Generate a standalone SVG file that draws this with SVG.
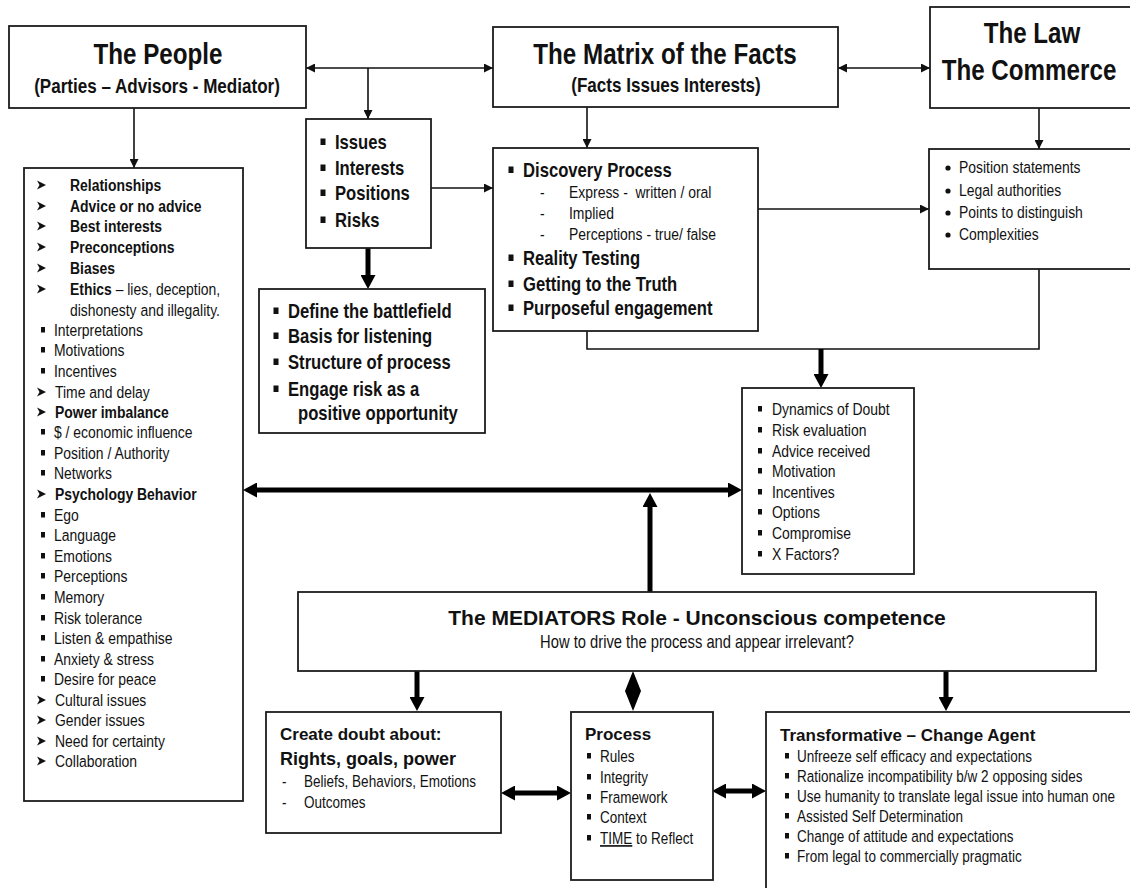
<svg xmlns="http://www.w3.org/2000/svg" width="1130" height="888" viewBox="0 0 1130 888">
<style>
.box{fill:#fff;stroke:#1c1c1c;stroke-width:1.8}
.n{font-family:'Liberation Sans',Arial,sans-serif;fill:#111}
.a{font-family:'Liberation Sans',Arial,sans-serif;fill:#111}
.b{font-weight:bold}
.r{font-weight:normal}
.h{font-size:29.5px;font-weight:bold;text-anchor:middle}
.s{font-size:20.8px;font-weight:bold;text-anchor:middle}
.i{font-size:20.3px;font-weight:bold}
.t{font-size:17px}
.u{font-size:16.5px}
.thin{stroke:#111;stroke-width:1.6;fill:none}
.thick{stroke:#000;stroke-width:5;fill:none}
.blt{fill:#111}
</style>
<defs>
<marker id="m" viewBox="0 0 10 10" refX="10" refY="5" markerWidth="10" markerHeight="9" markerUnits="userSpaceOnUse" orient="auto-start-reverse"><path d="M0,0L10,5L0,10z" fill="#111"/></marker>
<marker id="M" viewBox="0 0 14 15" refX="1" refY="7.5" markerWidth="14" markerHeight="15" markerUnits="userSpaceOnUse" orient="auto-start-reverse"><path d="M0,0L14,7.5L0,15z" fill="#000"/></marker>
<rect id="sq" x="-2" y="-3" width="4" height="5.5" class="blt"/>
<rect id="sqb" x="-2.5" y="-3.5" width="5" height="6.5" class="blt"/>
<path id="arb" d="M-4,-4.5L5,0L-4,4.5L-1.5,0z" class="blt"/>
<circle id="dot" r="2.6" class="blt"/>
</defs>

<g id="connectors">
<line class="thin" x1="306" y1="68" x2="493" y2="68" marker-start="url(#m)" marker-end="url(#m)"/>
<line class="thin" x1="368" y1="68" x2="368" y2="119" marker-end="url(#m)"/>
<line class="thin" x1="838" y1="68" x2="930" y2="68" marker-start="url(#m)" marker-end="url(#m)"/>
<line class="thin" x1="134" y1="108" x2="134" y2="168" marker-end="url(#m)"/>
<line class="thin" x1="587" y1="107" x2="587" y2="148" marker-end="url(#m)"/>
<line class="thin" x1="1039" y1="108" x2="1039" y2="149" marker-end="url(#m)"/>
<line class="thin" x1="431" y1="188" x2="493" y2="188" marker-end="url(#m)"/>
<line class="thin" x1="758" y1="209" x2="929" y2="209" marker-end="url(#m)"/>
<polyline class="thin" points="587,331 587,349 1039,349 1039,269"/>
<line class="thick" x1="368" y1="248" x2="368" y2="276" marker-end="url(#M)"/>
<line class="thick" x1="821" y1="349" x2="821" y2="375" marker-end="url(#M)"/>
<line class="thick" x1="256" y1="490" x2="729" y2="490" marker-start="url(#M)" marker-end="url(#M)"/>
<line class="thick" x1="650" y1="592" x2="650" y2="506" marker-end="url(#M)"/>
<line class="thick" x1="417" y1="671" x2="417" y2="698" marker-end="url(#M)"/>
<line class="thick" x1="946" y1="671" x2="946" y2="698" marker-end="url(#M)"/>
<line class="thick" x1="514" y1="793" x2="558" y2="793" marker-start="url(#M)" marker-end="url(#M)"/>
<line class="thick" x1="725" y1="791" x2="753" y2="791" marker-start="url(#M)" marker-end="url(#M)"/>
<polygon points="633,671 641,691 633,711 625,691" fill="#000"/>
</g>

<g id="people">
<rect class="box" x="9" y="26" width="297" height="82"/>
<text class="n h" transform="matrix(.82 0 0 1 158 64)">The People</text>
<text class="n s" transform="matrix(.82 0 0 1 157 93)">(Parties – Advisors - Mediator)</text>
</g>

<g id="matrix">
<rect class="box" x="493" y="27" width="345" height="80"/>
<text class="n h" transform="matrix(.82 0 0 1 665 64)">The Matrix of the Facts</text>
<text class="n s" transform="matrix(.82 0 0 1 666 92)">(Facts Issues Interests)</text>
</g>

<g id="law">
<rect class="box" x="930" y="7" width="206" height="101"/>
<text class="n h" transform="matrix(.82 0 0 1 1032 43)">The Law</text>
<text class="n h" transform="matrix(.82 0 0 1 1029 80)">The Commerce</text>
</g>

<g id="issues">
<rect class="box" x="306" y="119" width="125" height="129"/>
<use href="#sqb" x="323" y="142"/><use href="#sqb" x="323" y="168"/><use href="#sqb" x="323" y="193"/><use href="#sqb" x="323" y="220"/>
<text class="n i" transform="matrix(.82 0 0 1 335 149)">Issues</text>
<text class="n i" transform="matrix(.82 0 0 1 335 175)">Interests</text>
<text class="n i" transform="matrix(.82 0 0 1 335 200)">Positions</text>
<text class="n i" transform="matrix(.82 0 0 1 335 227)">Risks</text>
</g>

<g id="define">
<rect class="box" x="259" y="289" width="226" height="144"/>
<use href="#sqb" x="276" y="311"/><use href="#sqb" x="276" y="336"/><use href="#sqb" x="276" y="362"/><use href="#sqb" x="276" y="389"/>
<text class="n i" transform="matrix(.82 0 0 1 288 318)">Define the battlefield</text>
<text class="n i" transform="matrix(.82 0 0 1 288 343)">Basis for listening</text>
<text class="n i" transform="matrix(.82 0 0 1 288 369)">Structure of process</text>
<text class="n i" transform="matrix(.82 0 0 1 288 396)">Engage risk as a</text>
<text class="n i" transform="matrix(.82 0 0 1 298 420)">positive opportunity</text>
</g>

<g id="discovery">
<rect class="box" x="493" y="148" width="265" height="183"/>
<use href="#sqb" x="511" y="170"/><use href="#sqb" x="511" y="258"/><use href="#sqb" x="511" y="284"/><use href="#sqb" x="511" y="308"/>
<text class="n i" transform="matrix(.82 0 0 1 523 177)">Discovery Process</text>
<text class="n t" transform="matrix(.82 0 0 1 540 198)">-</text>
<text class="n t" transform="matrix(.82 0 0 1 569 198)" xml:space="preserve">Express -  written / oral</text>
<text class="n t" transform="matrix(.82 0 0 1 540 219)">-</text>
<text class="n t" transform="matrix(.82 0 0 1 569 219)">Implied</text>
<text class="n t" transform="matrix(.82 0 0 1 540 240)">-</text>
<text class="n t" transform="matrix(.82 0 0 1 569 240)">Perceptions - true/ false</text>
<text class="n i" transform="matrix(.82 0 0 1 523 265)">Reality Testing</text>
<text class="n i" transform="matrix(.82 0 0 1 523 291)">Getting to the Truth</text>
<text class="n i" transform="matrix(.82 0 0 1 523 315)">Purposeful engagement</text>
</g>

<g id="position">
<rect class="box" x="929" y="149" width="207" height="120"/>
<use href="#dot" x="948" y="168"/><use href="#dot" x="948" y="191"/><use href="#dot" x="948" y="213"/><use href="#dot" x="948" y="235"/>
<text class="n t" transform="matrix(.82 0 0 1 959 173)">Position statements</text>
<text class="n t" transform="matrix(.82 0 0 1 959 196)">Legal authorities</text>
<text class="n t" transform="matrix(.82 0 0 1 959 218)">Points to distinguish</text>
<text class="n t" transform="matrix(.82 0 0 1 959 240)">Complexities</text>
</g>

<g id="dynamics">
<rect class="box" x="742" y="388" width="172" height="186"/>
<use href="#sq" x="760" y="409"/><use href="#sq" x="760" y="430"/><use href="#sq" x="760" y="451"/><use href="#sq" x="760" y="471"/><use href="#sq" x="760" y="492"/><use href="#sq" x="760" y="512"/><use href="#sq" x="760" y="533"/><use href="#sq" x="760" y="554"/>
<text class="n t" transform="matrix(.82 0 0 1 772 415)">Dynamics of Doubt</text>
<text class="n t" transform="matrix(.82 0 0 1 772 436)">Risk evaluation</text>
<text class="n t" transform="matrix(.82 0 0 1 772 457)">Advice received</text>
<text class="n t" transform="matrix(.82 0 0 1 772 477)">Motivation</text>
<text class="n t" transform="matrix(.82 0 0 1 772 498)">Incentives</text>
<text class="n t" transform="matrix(.82 0 0 1 772 518)">Options</text>
<text class="n t" transform="matrix(.82 0 0 1 772 539)">Compromise</text>
<text class="n t" transform="matrix(.82 0 0 1 772 560)">X Factors?</text>
</g>

<g id="people-factors">
<rect class="box" x="24" y="168" width="219" height="633"/>
<use href="#arb" x="41" y="185"/><use href="#arb" x="41" y="206"/><use href="#arb" x="41" y="226"/><use href="#arb" x="41" y="247"/><use href="#arb" x="41" y="268"/><use href="#arb" x="41" y="289"/>
<use href="#sq" x="43" y="330"/><use href="#sq" x="43" y="350"/><use href="#sq" x="43" y="371"/>
<use href="#arb" x="41" y="392"/><use href="#arb" x="41" y="412"/>
<use href="#sq" x="43" y="432"/><use href="#sq" x="43" y="453"/><use href="#sq" x="43" y="473"/>
<use href="#arb" x="41" y="494"/>
<use href="#sq" x="43" y="515"/><use href="#sq" x="43" y="535"/><use href="#sq" x="43" y="556"/><use href="#sq" x="43" y="576"/><use href="#sq" x="43" y="597"/><use href="#sq" x="43" y="618"/><use href="#sq" x="43" y="638"/><use href="#sq" x="43" y="659"/><use href="#sq" x="43" y="679"/>
<use href="#arb" x="41" y="700"/><use href="#arb" x="41" y="720"/><use href="#arb" x="41" y="741"/><use href="#arb" x="41" y="761"/>
<text class="n t b" transform="matrix(.82 0 0 1 70 191)">Relationships</text>
<text class="n t b" transform="matrix(.82 0 0 1 70 212)">Advice or no advice</text>
<text class="n t b" transform="matrix(.82 0 0 1 70 232)">Best interests</text>
<text class="n t b" transform="matrix(.82 0 0 1 70 253)">Preconceptions</text>
<text class="n t b" transform="matrix(.82 0 0 1 70 274)">Biases</text>
<text class="n t b" transform="matrix(.82 0 0 1 70 295)">Ethics<tspan class="r"> – lies, deception,</tspan></text>
<text class="n t" transform="matrix(.82 0 0 1 70 316)">dishonesty and illegality.</text>
<text class="n t" transform="matrix(.82 0 0 1 54 336)">Interpretations</text>
<text class="n t" transform="matrix(.82 0 0 1 54 356)">Motivations</text>
<text class="n t" transform="matrix(.82 0 0 1 54 377)">Incentives</text>
<text class="n t" transform="matrix(.82 0 0 1 55 398)">Time and delay</text>
<text class="n t b" transform="matrix(.82 0 0 1 55 418)">Power imbalance</text>
<text class="n t" transform="matrix(.82 0 0 1 54 438)">$ / economic influence</text>
<text class="n t" transform="matrix(.82 0 0 1 54 459)">Position / Authority</text>
<text class="n t" transform="matrix(.82 0 0 1 54 479)">Networks</text>
<text class="n t b" transform="matrix(.82 0 0 1 55 500)">Psychology Behavior</text>
<text class="n t" transform="matrix(.82 0 0 1 54 521)">Ego</text>
<text class="n t" transform="matrix(.82 0 0 1 54 541)">Language</text>
<text class="n t" transform="matrix(.82 0 0 1 54 562)">Emotions</text>
<text class="n t" transform="matrix(.82 0 0 1 54 582)">Perceptions</text>
<text class="n t" transform="matrix(.82 0 0 1 54 603)">Memory</text>
<text class="n t" transform="matrix(.82 0 0 1 54 624)">Risk tolerance</text>
<text class="n t" transform="matrix(.82 0 0 1 54 644)">Listen &amp; empathise</text>
<text class="n t" transform="matrix(.82 0 0 1 54 665)">Anxiety &amp; stress</text>
<text class="n t" transform="matrix(.82 0 0 1 54 685)">Desire for peace</text>
<text class="n t" transform="matrix(.82 0 0 1 55 706)">Cultural issues</text>
<text class="n t" transform="matrix(.82 0 0 1 55 726)">Gender issues</text>
<text class="n t" transform="matrix(.82 0 0 1 55 747)">Need for certainty</text>
<text class="n t" transform="matrix(.82 0 0 1 55 767)">Collaboration</text>
</g>

<g id="mediator">
<rect class="box" x="298" y="592" width="798" height="79"/>
<text class="a b" x="697" y="625" font-size="21" text-anchor="middle">The MEDIATORS Role - Unconscious competence</text>
<text class="n" transform="matrix(.82 0 0 1 697 648)" font-size="18" text-anchor="middle">How to drive the process and appear irrelevant?</text>
</g>

<g id="create-doubt">
<rect class="box" x="266" y="712" width="235" height="121"/>
<text class="a b" x="280" y="740" font-size="17">Create doubt about:</text>
<text class="a b" x="280" y="765" font-size="18">Rights, goals, power</text>
<text class="n u" transform="matrix(.82 0 0 1 282 787)">-</text>
<text class="n u" transform="matrix(.82 0 0 1 304 787)">Beliefs, Behaviors, Emotions</text>
<text class="n u" transform="matrix(.82 0 0 1 282 808)">-</text>
<text class="n u" transform="matrix(.82 0 0 1 304 808)">Outcomes</text>
</g>

<g id="process">
<rect class="box" x="571" y="712" width="142" height="168"/>
<text class="a b" x="585" y="740" font-size="17">Process</text>
<use href="#sq" x="589" y="756"/><use href="#sq" x="589" y="777"/><use href="#sq" x="589" y="797"/><use href="#sq" x="589" y="817"/><use href="#sq" x="589" y="838"/>
<text class="n u" transform="matrix(.82 0 0 1 600 762)">Rules</text>
<text class="n u" transform="matrix(.82 0 0 1 600 783)">Integrity</text>
<text class="n u" transform="matrix(.82 0 0 1 600 803)">Framework</text>
<text class="n u" transform="matrix(.82 0 0 1 600 823)">Context</text>
<text class="n u" transform="matrix(.82 0 0 1 600 844)"><tspan text-decoration="underline">TIME</tspan> to Reflect</text>
</g>

<g id="transformative">
<rect class="box" x="766" y="712" width="370" height="190"/>
<text class="a b" x="780" y="741" font-size="17">Transformative – Change Agent</text>
<use href="#sq" x="787" y="756"/><use href="#sq" x="787" y="776"/><use href="#sq" x="787" y="796"/><use href="#sq" x="787" y="816"/><use href="#sq" x="787" y="836"/><use href="#sq" x="787" y="856"/>
<text class="n u" transform="matrix(.82 0 0 1 797 762)">Unfreeze self efficacy and expectations</text>
<text class="n u" transform="matrix(.82 0 0 1 797 782)">Rationalize incompatibility b/w 2 opposing sides</text>
<text class="n u" transform="matrix(.82 0 0 1 797 802)">Use humanity to translate legal issue into human one</text>
<text class="n u" transform="matrix(.82 0 0 1 797 822)">Assisted Self Determination</text>
<text class="n u" transform="matrix(.82 0 0 1 797 842)">Change of attitude and expectations</text>
<text class="n u" transform="matrix(.82 0 0 1 797 862)">From legal to commercially pragmatic</text>
</g>
</svg>
